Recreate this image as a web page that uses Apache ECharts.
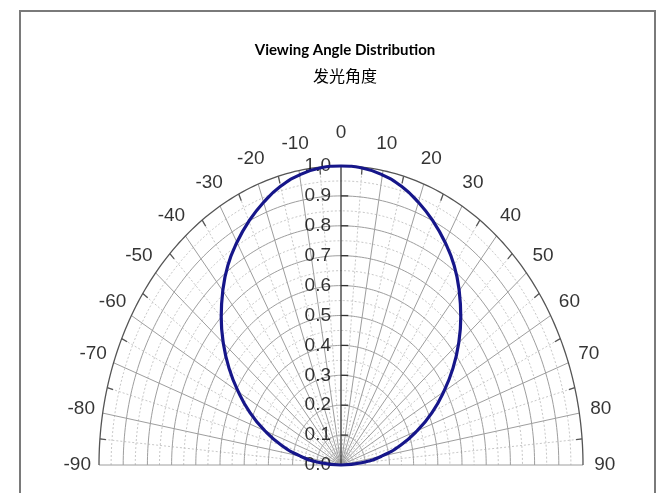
<!DOCTYPE html>
<html><head><meta charset="utf-8">
<script src="https://cdn.jsdelivr.net/npm/echarts@6/dist/echarts.min.js"></script>
<style>html,body{margin:0;padding:0;background:#fff}#c{width:656px;height:493px}</style>
</head><body><div id="c"></div>
<script>
const angleTicks = [-90,-80,-70,-60,-50,-40,-30,-20,-10,0,10,20,30,40,50,60,70,80,90];
const angleLabels = ['-90','-80','-70','-60','-50','-40','-30','-20','-10','0','10','20','30','40','50','60','70','80','90'];
const radiusTicks = [0,0.1,0.2,0.3,0.4,0.5,0.6,0.7,0.8,0.9,1.0];
const radiusLabels = ['0.0','0.1','0.2','0.3','0.4','0.5','0.6','0.7','0.8','0.9','1.0'];
const curveAngles = [-90,-85,-80,-75,-70,-65,-60,-55,-50,-45,-40,-35,-30,-25,-20,-15,-10,-5,0,5,10,15,20,25,30,35,40,45,50,55,60,65,70,75,80,85,90];
const curveValues = [0.0,0.085,0.17,0.255,0.335,0.415,0.49,0.565,0.635,0.70,0.76,0.815,0.86,0.90,0.935,0.965,0.985,0.997,1.0,0.997,0.985,0.965,0.935,0.90,0.86,0.815,0.76,0.70,0.635,0.565,0.49,0.415,0.335,0.255,0.17,0.085,0.0];

const rad = d => d * Math.PI / 180;
const toXY = (deg, r) => [r * Math.sin(rad(deg)), r * Math.cos(rad(deg))];
const rMax = radiusTicks[radiusTicks.length - 1];
function arc(r) { const p = []; for (let a = angleTicks[0]; a <= angleTicks[angleTicks.length-1]; a += 1) p.push(toXY(a, r)); return p; }
const mids = arr => arr.slice(0, -1).map((v, i) => (v + arr[i + 1]) / 2);

const minorR = mids(radiusTicks);
const minorA = mids(angleTicks);
const majorArcs = radiusTicks.slice(1, -1).map(r => ({ coords: arc(r) }));
const minorArcs = minorR.map(r => ({ coords: arc(r) }));
const majorSpokes = angleTicks.filter(a => a !== 0).map(a => ({ coords: [[0, 0], toXY(a, rMax)] }));
const minorSpokes = minorA.map(a => ({ coords: [[0, 0], toXY(a, rMax)] }));
const outerTicks = minorA.map(a => ({ coords: [toXY(a, rMax * 0.975), toXY(a, rMax)] }));
const axisTicks = radiusTicks.map(r => ({ coords: [[0, r], [0.03, r]] }));

const chart = echarts.init(document.getElementById('c'));
chart.setOption({
  backgroundColor: '#fff',
  animation: false,
  title: [
    { text: 'Viewing Angle Distribution', left: 340, top: 38, textAlign: 'center',
      textStyle: { fontFamily: 'Lato', fontWeight: 'bold', fontSize: 15, color: '#000' } },
    { text: '发光角度', left: 340, top: 63, textAlign: 'center',
      textStyle: { fontFamily: 'Noto Sans CJK SC', fontWeight: 'normal', fontSize: 16, color: '#000' } }
  ],
  graphic: [{ type: 'rect', shape: { x: 20, y: 11, width: 635, height: 500 }, style: { fill: 'none', stroke: '#7a7a7a', lineWidth: 2 }, silent: true }],
  grid: { left: 99, top: 166, width: 484, height: 299 },
  xAxis: { type: 'value', min: -1, max: 1, show: false },
  yAxis: { type: 'value', min: 0, max: 1, show: false },
  series: [
    { type: 'lines', coordinateSystem: 'cartesian2d', polyline: true, clip: false, silent: true,
      lineStyle: { color: '#c8c8c8', width: 1, type: [2, 2], opacity: 1 }, data: minorArcs.concat(minorSpokes) },
    { type: 'lines', coordinateSystem: 'cartesian2d', polyline: true, clip: false, silent: true,
      lineStyle: { color: '#9e9e9e', width: 1, opacity: 1 }, data: majorArcs.concat(majorSpokes) },
    { type: 'lines', coordinateSystem: 'cartesian2d', polyline: true, clip: false, silent: true,
      lineStyle: { color: '#555', width: 1.3, opacity: 1 }, data: [{ coords: arc(rMax) }].concat(outerTicks) },
    { type: 'lines', coordinateSystem: 'cartesian2d', polyline: true, clip: false, silent: true,
      lineStyle: { color: '#333', width: 1.3, opacity: 1 }, data: [{ coords: [[0, 0], [0, rMax]] }].concat(axisTicks) },
    { type: 'line', clip: false, smooth: true, symbol: 'none', silent: true,
      lineStyle: { color: '#16168a', width: 3.2 },
      data: curveAngles.map((a, i) => toXY(a, curveValues[i])) },
    { type: 'scatter', clip: false, symbolSize: 0, silent: true,
      label: { show: true, position: 'left', distance: 10, formatter: p => radiusLabels[p.dataIndex],
        fontFamily: 'Liberation Sans', fontSize: 19, color: '#000' },
      data: radiusTicks.map(r => [0, r]) },
    { type: 'scatter', clip: false, symbolSize: 0, silent: true,
      label: { show: true, position: 'inside', formatter: p => angleLabels[p.dataIndex],
        fontFamily: 'Liberation Sans', fontSize: 19, color: '#000' },
      data: angleTicks.map(a => toXY(a, a === 0 ? 1.11 : 1.09)) }
  ]
});
</script></body></html>
